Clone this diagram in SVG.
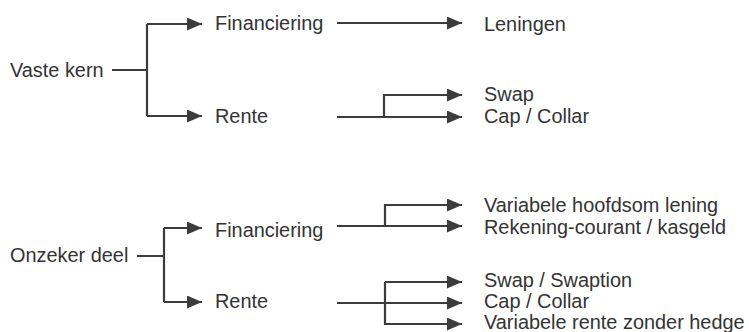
<svg xmlns="http://www.w3.org/2000/svg" width="749" height="332" viewBox="0 0 749 332">
<defs>
<marker id="ah" markerUnits="userSpaceOnUse" markerWidth="16" markerHeight="14" refX="15" refY="6.5" orient="auto">
<path d="M0,0 L15,6.5 L0,13 z" fill="#3c3c3c"/>
</marker>
<style>
text{font-family:"Liberation Sans",Arial,sans-serif;font-size:19.9px;fill:#333}
.c path{fill:none;stroke:#3c3c3c;stroke-width:2.2}
.a{marker-end:url(#ah)}
</style>
</defs>
<rect width="749" height="332" fill="#fff"/>
<g id="vaste-kern"><text x="10" y="77">Vaste kern</text></g>
<g id="fin1"><text x="215" y="30">Financiering</text></g>
<g id="rente1"><text x="215" y="123">Rente</text></g>
<g id="leningen"><text x="484" y="31">Leningen</text></g>
<g id="swap1"><text x="484" y="101">Swap</text></g>
<g id="cap1"><text x="484" y="123">Cap / Collar</text></g>
<g id="onzeker"><text x="10" y="262">Onzeker deel</text></g>
<g id="fin2"><text x="215" y="237">Financiering</text></g>
<g id="rente2"><text x="215" y="308">Rente</text></g>
<g id="varhoofdsom"><text x="484" y="212">Variabele hoofdsom lening</text></g>
<g id="rekening"><text x="484" y="234">Rekening-courant / kasgeld</text></g>
<g id="swap2"><text x="484" y="287">Swap / Swaption</text></g>
<g id="cap2"><text x="484" y="308">Cap / Collar</text></g>
<g id="varrente"><text x="484" y="329">Variabele rente zonder hedge</text></g>
<g class="c" id="connectors">
<path d="M112,70 H147 M147,24 V116"/>
<path class="a" d="M147,24 H202"/>
<path class="a" d="M147,116 H202"/>
<path class="a" d="M337,23 H462"/>
<path class="a" d="M337,117 H462"/>
<path class="a" d="M384,117 V95 H462"/>
<path d="M137,256 H164 M164,228 V302"/>
<path class="a" d="M164,228 H202"/>
<path class="a" d="M164,302 H202"/>
<path class="a" d="M337,226 H462"/>
<path class="a" d="M385,226 V205 H462"/>
<path class="a" d="M337,303 H462"/>
<path class="a" d="M385,282 V324 H462"/>
<path class="a" d="M385,282 H462"/>
</g>
</svg>
